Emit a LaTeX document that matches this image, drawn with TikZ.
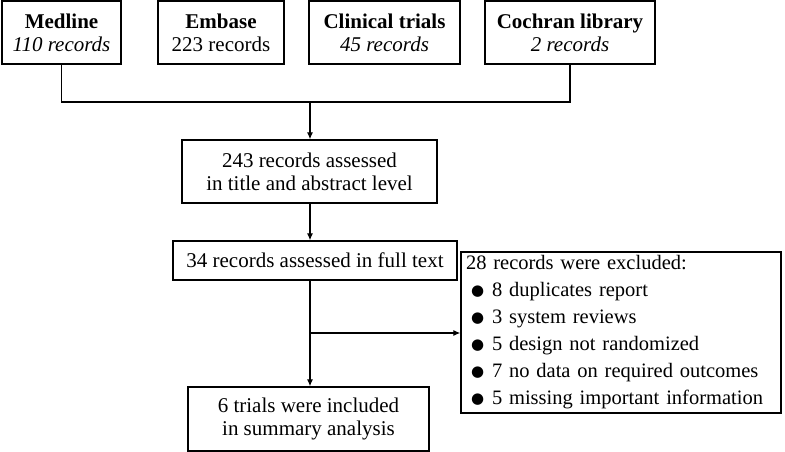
\documentclass[tikz,border=0pt]{standalone}
\usepackage{fontspec}
\setmainfont{Liberation Serif}
\newfontfamily\symfont{DejaVu Sans}
\usetikzlibrary{arrows.meta}
\newcommand{\bul}{\makebox[21pt][l]{\raisebox{1pt}{\symfont\fontsize{15}{15}\selectfont ●}}}
\tikzset{
  box/.style={draw=black, line width=1.3pt, inner sep=0pt, align=center, font=\fontsize{21}{23}\selectfont},
  conn/.style={line width=1.2pt},
  arr/.style={line width=1.2pt, -{Latex[length=7pt,width=6pt]}}
}
\begin{document}
\begin{tikzpicture}[x=1pt,y=-1pt]
\useasboundingbox (0,0) rectangle (785,452);
\node[box, minimum width=119pt, minimum height=63pt] (med) at (61.5,32.5) {\textbf{Medline}\\\textit{110 records}};
\node[box, minimum width=126pt, minimum height=63pt] (emb) at (221,32.5) {\textbf{Embase}\\223 records};
\node[box, minimum width=151pt, minimum height=63pt] (cli) at (384.5,32.5) {\textbf{Clinical trials}\\\textit{45 records}};
\node[box, minimum width=170pt, minimum height=63pt] (coc) at (570,32.5) {\textbf{Cochran library}\\\textit{2 records}};
\node[box, minimum width=255pt, minimum height=63pt] (a243) at (309.5,171.5) {243 records assessed\\in title and abstract level};
\node[box, minimum width=284pt, minimum height=39pt] (a34) at (315,260.5) {34 records assessed in full text};
\node[box, minimum width=320pt, minimum height=161pt, align=left, text width=310pt, font=\fontsize{20.5}{27}\selectfont] (exc) at (621,332.5)
  {28 records were excluded:\\
   \hspace*{5pt}\bul 8 duplicates report\\
   \hspace*{5pt}\bul 3 system reviews\\
   \hspace*{5pt}\bul 5 design not randomized\\
   \hspace*{5pt}\bul 7 no data on required outcomes\\
   \hspace*{5pt}\bul 5 missing important information};
\node[box, minimum width=241pt, minimum height=64pt] (a6) at (308.5,419) {6 trials were included\\in summary analysis};
\coordinate (j) at (310,102);
\coordinate (k) at (310,333);
\draw[conn] (med.south) -- (med.south |- j) -- (coc.south |- j) -- (coc.south);
\draw[arr] (j) -- (j |- a243.north);
\draw[arr] (j |- a243.south) -- (j |- a34.north);
\draw[arr] (j |- a34.south) -- (j |- a6.north);
\draw[arr] (k) -- (exc.west |- k);
\end{tikzpicture}
\end{document}
